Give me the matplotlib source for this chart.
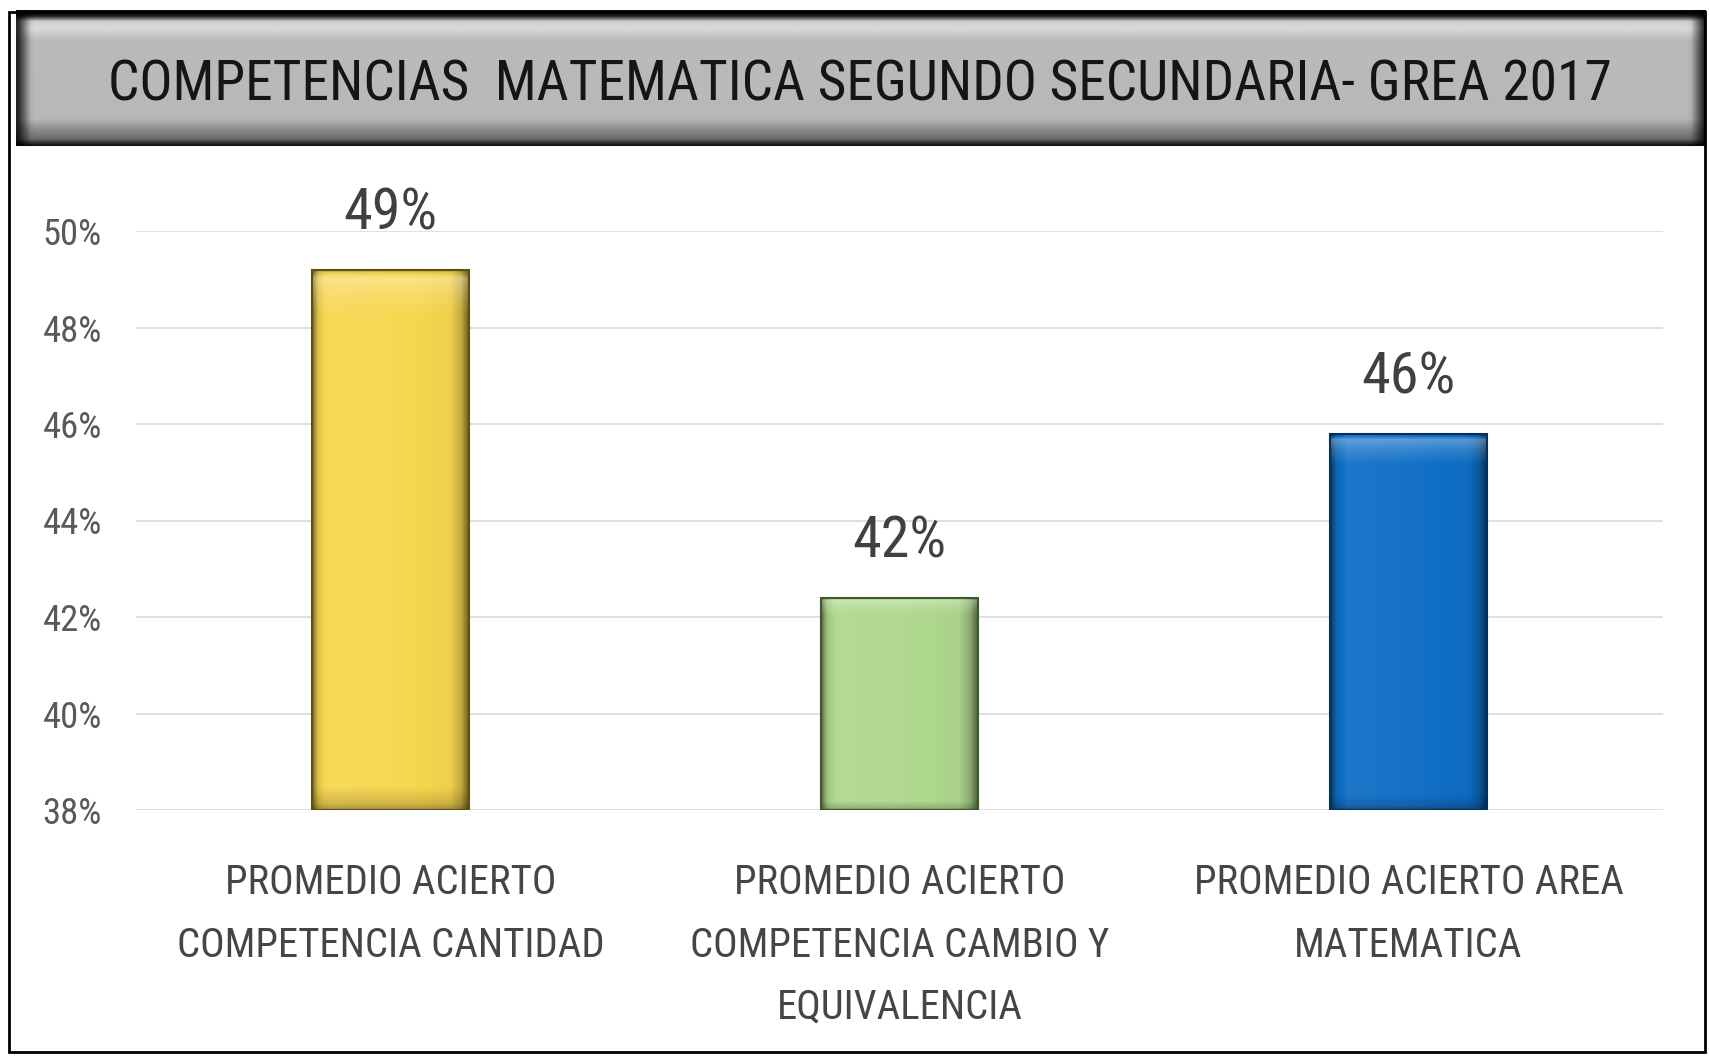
import numpy as np
import matplotlib
matplotlib.use("agg")
from matplotlib import pyplot as plt
from matplotlib import font_manager as fm
from matplotlib.patches import Rectangle
from matplotlib.colors import to_rgb

# pick the narrowest family that is installed
CANDIDATES = ["Liberation Sans Narrow", "Roboto Condensed", "Noto Sans Condensed",
              "Open Sans Condensed", "Liberation Sans", "DejaVu Sans"]
available = {f.name for f in fm.fontManager.ttflist}
FAMILY = next(c for c in CANDIDATES if c in available)
plt.rcParams["font.family"] = [FAMILY, "DejaVu Sans"]

TITLE = "COMPETENCIAS  MATEMATICA SEGUNDO SECUNDARIA- GREA 2017"
CATEGORIES = [
    "PROMEDIO ACIERTO\nCOMPETENCIA CANTIDAD",
    "PROMEDIO ACIERTO\nCOMPETENCIA CAMBIO Y\nEQUIVALENCIA",
    "PROMEDIO ACIERTO AREA\nMATEMATICA",
]
VALUES = [49.2, 42.4, 45.8]
VALUE_LABELS = ["49%", "42%", "46%"]
YTICKS = [38, 40, 42, 44, 46, 48, 50]
BAR_COLORS = ["#F7D64E", "#AED88C", "#0F6EC6"]
EDGE_COLORS = ["#5f5010", "#3f5a2a", "#062f60"]

W, H = 1709, 1060


def shade(rgb, f):
    # f > 1 blends toward white, f < 1 toward black
    rgb = np.asarray(rgb)
    if f >= 1:
        return rgb + (1 - rgb) * min(f - 1, 1)
    return rgb * f


def bar_gradient(color, nx=60, ny=200):
    """Bevel-like shading for a bar face."""
    base = to_rgb(color)
    fx = np.interp(np.linspace(0, 1, nx), [0, 0.03, 0.1, 0.5, 0.88, 0.95, 1.0],
                   [0.55, 0.9, 1.06, 1.03, 0.97, 0.8, 0.45])
    fy = np.interp(np.linspace(0, 1, ny), [0, 0.015, 0.04, 0.08, 0.96, 0.99, 1.0],
                   [0.8, 1.3, 1.15, 1.0, 1.0, 0.85, 0.7])
    img = np.zeros((ny, nx, 3))
    for j in range(ny):
        for i in range(nx):
            img[j, i] = np.clip(shade(shade(base, fx[i]), fy[j]), 0, 1)
    return img


def fit_width(txt, target_px, renderer):
    for _ in range(4):
        w = txt.get_window_extent(renderer).width
        txt.set_fontsize(txt.get_fontsize() * target_px / w)


fig = plt.figure(figsize=(W / 100, H / 100), dpi=100)
renderer = fig.canvas.get_renderer()

# main axes
ax = fig.add_axes([136 / W, 1 - 810 / H, (1663 - 136) / W, (810 - 231) / H])
x = np.arange(len(CATEGORIES))
bars = ax.bar(x, VALUES, width=0.31, color=BAR_COLORS, zorder=2)
for bar, col, edge in zip(bars, BAR_COLORS, EDGE_COLORS):
    x0, y0 = bar.get_x(), YTICKS[0]
    x1, y1 = x0 + bar.get_width(), bar.get_height()
    im = ax.imshow(bar_gradient(col), extent=(x0, x1, y0, y1), origin="upper",
                   aspect="auto", zorder=2.2, interpolation="bilinear")
    im.set_clip_path(bar)
    ax.add_patch(Rectangle((x0, y0), x1 - x0, y1 - y0, fill=False,
                           edgecolor=edge, lw=1.5, zorder=3))

ax.set_xlim(-0.5, 2.5)
ax.set_ylim(YTICKS[0], YTICKS[-1])
ax.grid(axis="y", color="#d9d9d9", lw=1.2, zorder=0)
ax.set_axisbelow(True)
for s in ax.spines.values():
    s.set_visible(False)

# value labels above bars
val_texts = []
for xi, v, lab in zip(x, VALUES, VALUE_LABELS):
    t = ax.annotate(lab, (xi, v), xytext=(0, 40), textcoords="offset points",
                    ha="center", va="center", fontsize=34, color="#404040",
                    annotation_clip=False)
    val_texts.append(t)
fit_width(val_texts[0], 94, renderer)
for t in val_texts[1:]:
    t.set_fontsize(val_texts[0].get_fontsize())

# y tick labels
ax.set_yticks(YTICKS)
ax.set_yticklabels([f"{t}%" for t in YTICKS])
ax.tick_params(axis="y", length=0, pad=24.5, labelsize=20, labelcolor="#595959")
ylabs = ax.get_yticklabels()
fit_width(ylabs[-1], 59, renderer)
ax.tick_params(axis="y", labelsize=ylabs[-1].get_fontsize())

# category labels
ax.set_xticks(x)
ax.set_xticklabels(CATEGORIES)
ax.tick_params(axis="x", length=0, labelsize=26, labelcolor="#454545")
probe = fig.text(0, 0, "COMPETENCIA CANTIDAD", fontsize=26)
fit_width(probe, 428, renderer)
cat_size = probe.get_fontsize()
probe.remove()
fp = fm.FontProperties(family=[FAMILY, "DejaVu Sans"], size=cat_size)
_, lp_h, lp_d = renderer.get_text_width_height_descent("lp", fp, ismath=False)
_, cap_h, cap_d = renderer.get_text_width_height_descent("PROMEDIO", fp, ismath=False)
ax.tick_params(axis="x", labelsize=cat_size,
               pad=(68 - (cap_h - cap_d) / 2) * 72 / 100)
for lab in ax.get_xticklabels():
    lab.set_linespacing(62 / (lp_h - lp_d) * 62 / 71)

# title banner with grey gradient, darker at the ends
tax = fig.add_axes([16 / W, 1 - 146 / H, 1690 / W, 136 / H])
gy = np.interp(np.linspace(0, 1, 136), [0, 0.04, 0.08, 0.13, 0.22, 0.8, 0.88, 0.95, 1.0],
               [0.05, 0.1, 0.8, 0.86, 0.73, 0.72, 0.55, 0.42, 0.05])
gx = np.interp(np.linspace(0, 1, 400), [0, 0.003, 0.008, 0.992, 0.997, 1.0],
               [0.2, 0.5, 1.0, 1.0, 0.5, 0.2])
tax.imshow(gy[:, None] * gx[None, :], cmap="gray", vmin=0, vmax=1,
           aspect="auto", extent=(0, 1, 0, 1), interpolation="bilinear")
tax.set_axis_off()
title = fig.text(860 / W, 1 - 85 / H, TITLE, ha="center", va="center",
                 fontsize=34, color="#151515")
fit_width(title, 1502, renderer)

# outer frame
fig.patches.append(Rectangle((9 / W, 1 - 1052 / H), (1705 - 9) / W, (1052 - 12) / H,
                             transform=fig.transFigure, fill=False,
                             edgecolor="black", lw=2))

fig.savefig("out.png", dpi=100)
